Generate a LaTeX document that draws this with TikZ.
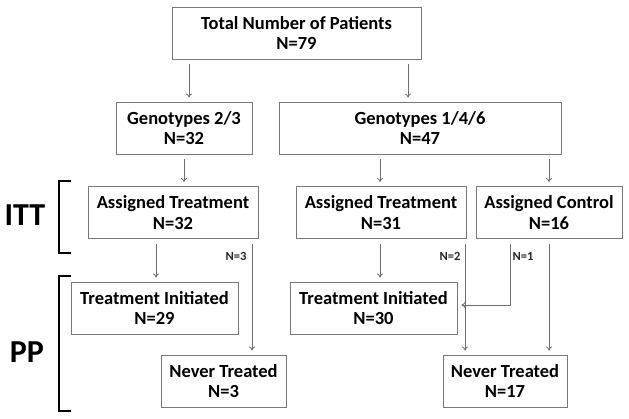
\documentclass[tikz,border=0pt]{standalone}
\usepackage{fontspec}
\setmainfont{Carlito}
\usetikzlibrary{arrows.meta}
\definecolor{boxgray}{RGB}{120,120,120}
\definecolor{arrgray}{RGB}{110,110,110}
\begin{document}
\begin{tikzpicture}[x=1pt, y=-1pt,
  box/.style = {draw=boxgray, line width=0.9pt, align=center, inner sep=0pt,
                minimum height=52pt, font=\fontsize{18.5}{20.5}\selectfont\bfseries},
  arr/.style = {draw=arrgray, line width=0.8pt, -{To[length=4pt,width=6pt]},
                shorten <=5pt, shorten >=4pt},
  nlbl/.style = {font=\fontsize{12.5}{14}\selectfont\bfseries, text=black!85},
  biglbl/.style = {font=\fontsize{32}{34}\selectfont\bfseries},
  bracket/.style = {line width=2.6pt, line cap=butt}]

\useasboundingbox (0,0) rectangle (629,419);

\node[box, minimum width=249pt] (total)  at (296.5,33)  {Total Number of Patients\\N=79};
\node[box, minimum width=136pt] (gen23)  at (184,128)   {Genotypes 2/3\\N=32};
\node[box, minimum width=282pt] (gen146) at (420,128)   {Genotypes 1/4/6\\N=47};
\node[box, minimum width=170pt] (at1)    at (173,212.5) {Assigned Treatment\\N=32};
\node[box, minimum width=170pt] (at2)    at (381,212.5) {Assigned Treatment\\N=31};
\node[box, minimum width=146pt] (ac)     at (549,212.5) {Assigned Control\\N=16};
\node[box, minimum width=167pt] (ti1)    at (154.5,308) {Treatment Initiated\\N=29};
\node[box, minimum width=167pt] (ti2)    at (373.5,308) {Treatment Initiated\\N=30};
\node[box, minimum width=125pt] (nt1)    at (223.5,381) {Never Treated\\N=3};
\node[box, minimum width=124pt] (nt2)    at (505,381)   {Never Treated\\N=17};

\draw[arr] (189,0 |- total.south) -- (189,0 |- gen23.north);
\draw[arr] (408,0 |- total.south) -- (408,0 |- gen146.north);
\draw[arr] (184,0 |- gen23.south) -- (184,0 |- at1.north);
\draw[arr] (380,0 |- gen146.south) -- (380,0 |- at2.north);
\draw[arr] (549,0 |- gen146.south) -- (549,0 |- ac.north);
\draw[arr] (156,0 |- at1.south) -- (156,0 |- ti1.north);
\draw[arr] (252,0 |- at1.south) -- (252,0 |- nt1.north);
\draw[arr] (380,0 |- at2.south) -- (380,0 |- ti2.north);
\draw[arr] (465,0 |- at2.south) -- (465,0 |- nt2.north);
\draw[arr] (549,0 |- ac.south) -- (549,0 |- nt2.north);
\draw[arr] (510,0 |- ac.south) -- (510,305) -- (ti2.east |- 0,305);

\node[nlbl] (n3) at (236,256) {N=3};
\node[nlbl] (n2) at (450,256) {N=2};
\node[nlbl] (n1) at (523,256) {N=1};

\node[biglbl] (itt) at (25,215) {ITT};
\node[biglbl] (pp)  at (27,352) {PP};
\draw[bracket] (71,181) -- (59,181) -- (59,253) -- (71,253);
\draw[bracket] (71,276) -- (59,276) -- (59,411) -- (71,411);

\end{tikzpicture}
\end{document}
